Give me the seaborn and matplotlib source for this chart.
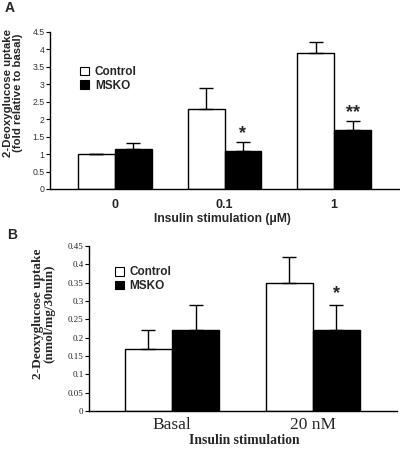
import matplotlib
matplotlib.use("Agg")
import matplotlib.pyplot as plt
import seaborn as sns
import pandas as pd

# ---- data ----
groups = ["Control", "MSKO"]
a_doses = ["0", "0.1", "1"]
a_control = [1.0, 2.3, 3.9]
a_control_err = [0.0, 0.6, 0.3]
a_msko = [1.15, 1.1, 1.7]
a_msko_err = [0.17, 0.25, 0.25]
a_yticks = [0, 0.5, 1, 1.5, 2, 2.5, 3, 3.5, 4, 4.5]
a_ytick_labels = ["0", "0.5", "1", "1.5", "2", "2.5", "3", "3.5", "4", "4.5"]

b_conds = ["Basal", "20 nM"]
b_control = [0.17, 0.35]
b_control_err = [0.05, 0.07]
b_msko = [0.22, 0.22]
b_msko_err = [0.07, 0.07]
b_yticks = [0, 0.05, 0.1, 0.15, 0.2, 0.25, 0.3, 0.35, 0.4, 0.45]
b_ytick_labels = ["0", "0.05", "0.1", "0.15", "0.2", "0.25", "0.3", "0.35", "0.4", "0.45"]

sns.set_style("ticks")
plt.rcParams["font.family"] = ["Liberation Sans", "DejaVu Sans"]

fig = plt.figure(figsize=(4, 4.5), dpi=100)
axA = fig.add_axes([0.125, 0.58, 0.8725, 0.349])
axB = fig.add_axes([0.2225, 0.0867, 0.77, 0.3663])

palette = {"Control": "white", "MSKO": "black"}


def draw(ax, cats, ctrl, msko, ctrl_err, msko_err):
    df = pd.DataFrame({
        "cat": cats * 2,
        "group": ["Control"] * len(cats) + ["MSKO"] * len(cats),
        "value": ctrl + msko,
    })
    sns.barplot(data=df, x="cat", y="value", hue="group", order=cats,
                hue_order=groups, palette=palette, edgecolor="black",
                linewidth=1.0, width=0.67, errorbar=None, ax=ax, legend=False)
    for cont, errs in zip(ax.containers, [ctrl_err, msko_err]):
        for bar, e in zip(cont, errs):
            ax.errorbar(bar.get_x() + bar.get_width() / 2, bar.get_height(),
                        yerr=[[0], [e]], color="black", elinewidth=1.0,
                        capsize=5, capthick=1.0, zorder=1)
    for s in ["top", "right"]:
        ax.spines[s].set_visible(False)
    for s in ["left", "bottom"]:
        ax.spines[s].set_color("black")
        ax.spines[s].set_linewidth(1.0)
    ax.tick_params(axis="x", length=0)
    ax.tick_params(axis="y", length=3, width=0.8, color="black", pad=1)
    ax.set_xlabel("")
    ax.set_ylabel("")


# ---- Panel A ----
draw(axA, a_doses, a_control, a_msko, a_control_err, a_msko_err)
axA.set_ylim(0, 4.5)
axA.set_xlim(-0.59, 2.59)
axA.set_yticks(a_yticks)
axA.set_yticklabels(a_ytick_labels, fontsize=6.3, color="#333333")
axA.set_xticks(range(len(a_doses)))
axA.set_xticklabels(a_doses, fontsize=9, fontweight="bold")
axA.tick_params(axis="x", pad=7)
axA.text(1.167, 1.6, "*", ha="center", va="center", fontsize=13, fontweight="bold")
axA.text(2.167, 2.2, "**", ha="center", va="center", fontsize=13, fontweight="bold")
fig.text(0.555, 0.513, "Insulin stimulation (\u03bcM)", ha="center", va="center",
         fontsize=8.7, fontweight="bold")
fig.text(0.032, 0.793, "2-Deoxyglucose uptake\n(fold relative to basal)", ha="center",
         va="center", rotation=90, fontsize=8.2, fontweight="bold", linespacing=1.0)
fig.text(0.012, 0.982, "A", fontsize=10, fontweight="bold", ha="left", va="center")

# legend A
hA = [plt.Rectangle((0, 0), 1, 1, facecolor=palette[g], edgecolor="black", linewidth=0.8)
      for g in groups]
axA.legend(hA, groups, loc="upper left", bbox_to_anchor=(0.2, 0.853),
           bbox_transform=fig.transFigure, frameon=False, handlelength=0.75,
           handleheight=0.75, handletextpad=0.5, labelspacing=0.15,
           prop={"weight": "bold", "size": 8.5}, borderaxespad=0, borderpad=0)

# ---- Panel B ----
draw(axB, b_conds, b_control, b_msko, b_control_err, b_msko_err)
axB.set_ylim(0, 0.45)
axB.set_xlim(-0.59, 1.6)
axB.set_yticks(b_yticks)
axB.set_yticklabels(b_ytick_labels, fontsize=6.5, family="Liberation Serif", color="#222222")
axB.set_xticks(range(len(b_conds)))
axB.set_xticklabels(b_conds, fontsize=12.5, family="Liberation Serif")
axB.tick_params(axis="x", pad=4)
axB.text(1.167, 0.32, "*", ha="center", va="center", fontsize=13, fontweight="bold")
fig.text(0.61, 0.02, "Insulin stimulation", ha="center", va="center",
         fontsize=9.8, fontweight="bold", family="Liberation Serif")
fig.text(0.109, 0.302, "2-Deoxyglucose uptake\n(nmol/mg/30min)", ha="center",
         va="center", rotation=90, fontsize=9.5, fontweight="bold",
         family="Liberation Serif", linespacing=1.0)
fig.text(0.017, 0.478, "B", fontsize=10, fontweight="bold", ha="left", va="center")

hB = [plt.Rectangle((0, 0), 1, 1, facecolor=palette[g], edgecolor="black", linewidth=0.8)
      for g in groups]
axB.legend(hB, groups, loc="upper left", bbox_to_anchor=(0.287, 0.408),
           bbox_transform=fig.transFigure, frameon=False, handlelength=0.75,
           handleheight=0.75, handletextpad=0.5, labelspacing=0.15,
           prop={"weight": "bold", "size": 8.5}, borderaxespad=0, borderpad=0)

fig.savefig("out.png", dpi=100)
